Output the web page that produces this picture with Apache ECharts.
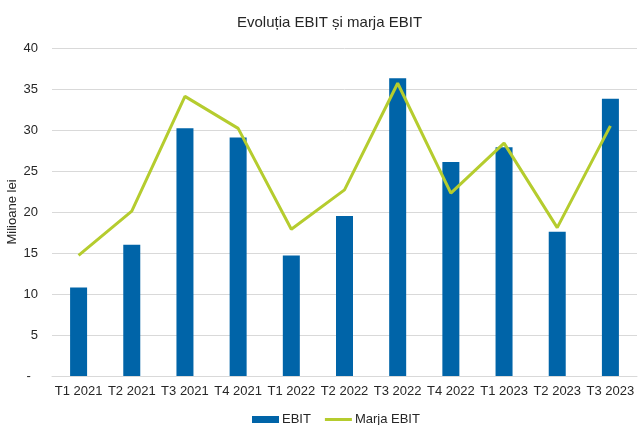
<!DOCTYPE html>
<html>
<head>
<meta charset="utf-8">
<script src="https://cdn.jsdelivr.net/npm/echarts@6.0.0/dist/echarts.min.js"></script>
<style>
    html, body { margin: 0; padding: 0; background: #fff; }
    #chart { width: 643px; height: 425px; }
</style>
</head>
<body>
<div id="chart"></div>
<script>
const categories = ["T1 2021", "T2 2021", "T3 2021", "T4 2021", "T1 2022", "T2 2022",
    "T3 2022", "T4 2022", "T1 2023", "T2 2023", "T3 2023"];
const ebit = [10.8, 16.0, 30.2, 29.1, 14.7, 19.5, 36.3, 26.1, 27.9, 17.6, 33.8];
const marjaEbit = [14.7, 20.1, 34.1, 30.2, 17.9, 22.7, 35.7, 22.3, 28.4, 18.1, 30.5];

const font = "Arial, 'Liberation Sans', sans-serif";

const chart = echarts.init(document.getElementById("chart"));
chart.setOption({
    animation: false,
    textStyle: { fontFamily: font },
    title: {
        text: "Evoluția EBIT și marja EBIT",
        left: 232,
        top: 10,
        textStyle: { fontFamily: font, fontSize: 15, fontWeight: "normal", color: "#262626" },
    },
    grid: { left: 52, right: 6, top: 48, bottom: 49, outerBoundsMode: "none", containLabel: false },
    legend: {
        top: 408,
        left: 247,
        itemWidth: 27,
        itemHeight: 7,
        itemGap: 14,
        symbolKeepAspect: true,
        textStyle: { fontFamily: font, fontSize: 13, color: "#262626", padding: [0, 0, 0, -2] },
        data: [
            { name: "EBIT", icon: "rect" },
            { name: "Marja EBIT", icon: "path://M0,0 L27,0 L27,3 L0,3 Z" },
        ],
    },
    xAxis: {
        type: "category",
        data: categories,
        axisTick: { show: false },
        axisLine: { lineStyle: { color: "#d9d9d9" } },
        axisLabel: { color: "#262626", fontSize: 13, margin: 9, interval: 0 },
    },
    yAxis: {
        type: "value",
        min: 0,
        max: 40,
        interval: 5,
        name: "Milioane lei",
        nameLocation: "middle",
        nameRotate: 90,
        nameGap: 33,
        nameMoveOverlap: false,
        nameTextStyle: { color: "#262626", fontSize: 13 },
        axisLabel: {
            color: "#262626",
            fontSize: 13,
            margin: 14,
            formatter: (v) => (v === 0 ? "-  " : v),
        },
        splitLine: { lineStyle: { color: "#d9d9d9" } },
    },
    series: [
        {
            name: "EBIT",
            type: "bar",
            data: ebit,
            barWidth: 17,
            itemStyle: { color: "#0064a8" },
        },
        {
            name: "Marja EBIT",
            type: "line",
            data: marjaEbit,
            symbol: "none",
            lineStyle: { color: "#b5cc2e", width: 3 },
            itemStyle: { color: "#b5cc2e" },
        },
    ],
});
</script>
</body>
</html>
